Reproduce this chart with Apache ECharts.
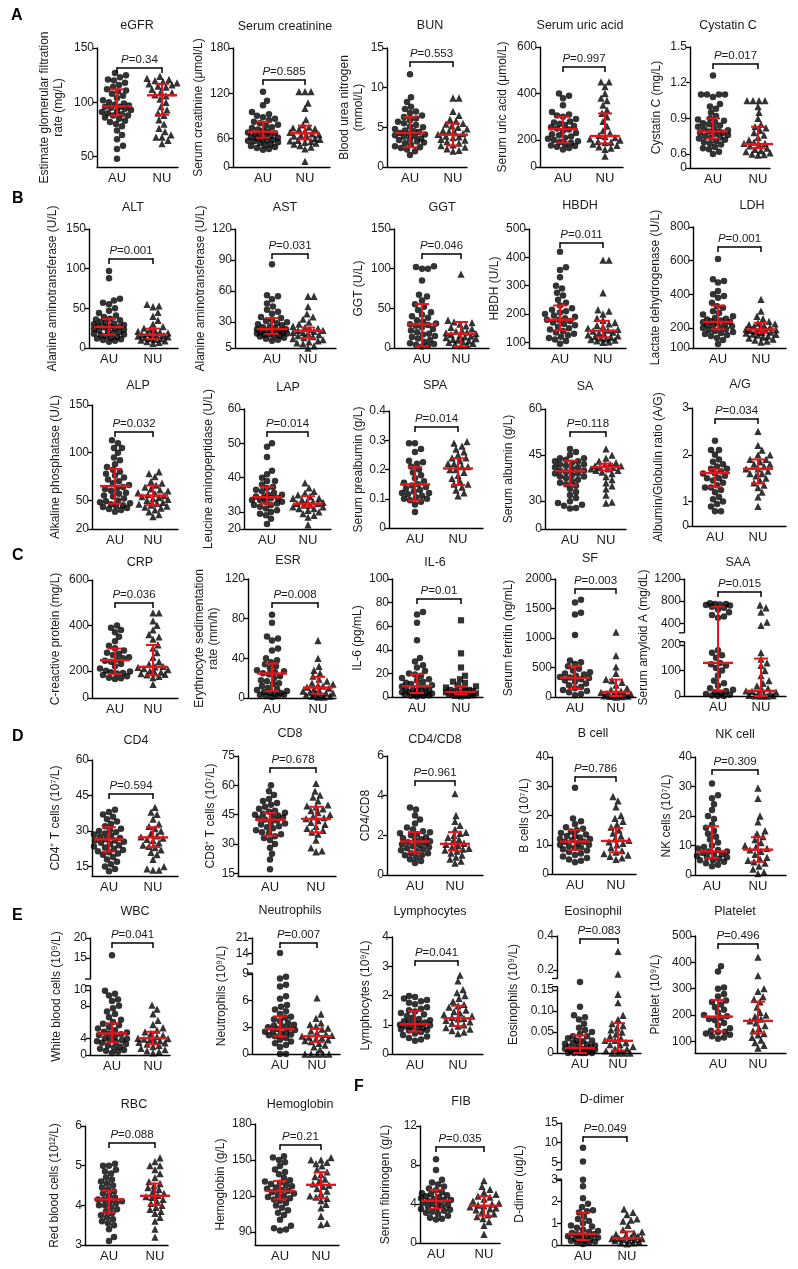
<!DOCTYPE html>
<html><head><meta charset="utf-8">
<script src="https://cdn.jsdelivr.net/npm/echarts@6/dist/echarts.min.js"></script>
<style>html,body{margin:0;padding:0;background:#fff}#c{width:798px;height:1269px}</style>
</head><body><div id="c"></div>
<script>
// ---------------- DATA ----------------
const titles = ['eGFR','Serum creatinine','BUN','Serum uric acid','Cystatin C',
 'ALT','AST','GGT','HBDH','LDH',
 'ALP','LAP','SPA','SA','A/G',
 'CRP','ESR','IL-6','SF','SAA',
 'CD4','CD8','CD4/CD8','B cell','NK cell',
 'WBC','Neutrophils','Lymphocytes','Eosinophil','Platelet',
 'RBC','Hemoglobin','FIB','D-dimer'];
const yNames = ['Estimate glomerular filtration\nrate (mg/L)','Serum creatinine (μmol/L)','Blood urea nitrogen\n(mmol/L)','Serum uric acid (μmol/L)','Cystatin C (mg/L)',
 'Alanine aminotransferase (U/L)','Alanine aminotransferase (U/L)','GGT (U/L)','HBDH (U/L)','Lactate dehydrogenase (U/L)',
 'Alkaline phosphatase (U/L)','Leucine aminopeptidase (U/L)','Serum prealbumin (g/L)','Serum albumin (g/L)','Albumin/Globulin ratio (A/G)',
 'C-reactive protein (mg/L)','Erythrocyte sedimentation\nrate (mm/h)','IL-6 (pg/mL)','Serum ferritin (ng/mL)','Serum amyloid A (mg/dL)',
 'CD4⁺ T cells (10⁷/L)','CD8⁺ T cells (10⁷/L)','CD4/CD8','B cells (10⁷/L)','NK cells (10⁷/L)',
 'White blood cells (10⁹/L)','Neutrophils (10⁹/L)','Lymphocytes (10⁹/L)','Eosinophils (10⁹/L)','Platelet (10⁹/L)',
 'Red blood cells (10¹²/L)','Hemoglobin (g/L)','Serum fibrinogen (g/L)','D-dimer (ug/L)'];
const pValues = ['0.34','0.585','0.553','0.997','0.017','0.001','0.031','0.046','0.011','0.001',
 '0.032','0.014','0.014','0.118','0.034','0.036','0.008','0.01','0.003','0.015',
 '0.594','0.678','0.961','0.786','0.309','0.041','0.007','0.041','0.083','0.496',
 '0.088','0.21','0.035','0.049'];
const tickLabels = [['50','100','150'],['0','60','120','180'],['0','5','10','15'],['0','200','400','600'],['0','0.6','0.9','1.2','1.5'],
 ['0','50','100','150'],['5','30','60','90','120'],['0','50','100','150'],['100','200','300','400','500'],['100','200','400','600','800'],
 ['20','50','100','150'],['20','30','40','50','60'],['0','0.1','0.2','0.3','0.4'],['0','30','45','60'],['0','1','2','3'],
 ['0','200','400','600'],['0','40','80','120'],['0','20','40','60','80','100'],['0','500','1000','1500','2000'],['0','100','200','400','800','1200'],
 ['15','30','45','60'],['15','30','45','60','75'],['0','2','4','6'],['0','10','20','30','40'],['0','10','20','30','40'],
 ['0','4','8','10','15','20'],['0','3','6','9','14','21'],['0','1','2','3','4'],['0','0.05','0.10','0.15','0.2','0.4'],['100','200','300','400','500'],
 ['3','4','5','6'],['90','120','150','180'],['0','4','8','12'],['0','1','2','3','5','10','15']];
// median with lower / upper bar [centre, low, high]
const statsAU = [[96.3,88,112],[68.9,61,82],[4.29,2.49,6.3],[247,180,300],[0.79,0.73,0.9],
 [26.5,16.8,36.6],[23.2,18.7,33.9],[29.8,2.1,55.4],[180,142,230],[237,194,333],
 [65,46.5,83],[34.3,32.4,37.3],[0.149,0.094,0.208],[39.8,35.2,43.1],[1.61,1.31,1.69],
 [247,176,298],[24.7,7.1,34.8],[9.1,3.4,19.3],[324,142,523],[130,22,700],
 [26.5,21.3,31.6],[42.4,34.3,45.9],[1.69,1.15,2.16],[11.1,8.2,15.1],[8.0,5.7,16.5],
 [4.6,3.0,5.85],[2.81,1.99,4.23],[1.02,0.77,1.47],[0.012,0,0.042],[194,138,257],
 [4.15,3.82,4.37],[124.1,117.1,132.5],[4.33,3.52,5.45],[0.51,0.23,1.49]];
const statsNU = [[106.5,88.6,117],[67,58,77],[4.07,2.7,5.49],[217,175,314],[0.684,0.65,0.83],
 [16.8,11.3,24.4],[21.6,14.5,24.8],[17.9,2.1,32.8],[141,118,176],[193,178,231],
 [55,45,65.5],[32.4,31.5,34.6],[0.2035,0.147,0.238],[41.1,40,42.2],[1.70,1.39,1.9],
 [217.5,168,314],[10.5,4.4,21.3],[4.3,2.3,9.1],[85,17,295],[20,0,147],
 [27.3,23.2,31.6],[42.8,35.9,49],[1.57,1.23,2.16],[11.3,7.4,15.7],[8.6,4.5,12.8],
 [4.0,2.55,4.8],[1.99,1.35,2.85],[1.22,0.96,1.65],[0.029,0.0055,0.071],[178,131,251],
 [4.24,4.01,4.55],[129.2,118,139.8],[3.82,2.8,4.78],[0.31,0.28,0.62]];

const egfrAU=[48,57,60,66,70,74,78,80,82,83,85,86,88,88,89,90,91,92,93,94,95,96,96,97,98,99,100,102,104,106,108,110,111,112,114,116,118,120,121,123,125,127];
const egfrNU=[62,65,68,68,70,73,76,80,84,88,90,93,96,100,103,106,107,109,110,112,114,115,116,117,118,119,120,121,122,124];
const creatAU=[36,38,40,42,44,46,48,50,52,54,55,56,57,58,60,61,62,63,64,65,66,67,68,69,70,72,74,75,77,78,80,82,84,86,88,90,92,95,104,110,122];
const creatNU=[12,38,42,45,48,50,52,54,55,56,58,60,62,63,64,65,66,68,70,72,73,74,75,78,85,100,107,122,122,122];
const bunAU=[1.5,2.0,2.2,2.4,2.5,2.6,2.8,3.0,3.1,3.2,3.4,3.5,3.6,3.8,3.9,4.0,4.1,4.2,4.3,4.4,4.5,4.6,4.8,5.0,5.1,5.3,5.5,5.7,5.9,6.1,6.3,6.5,6.8,7.0,7.3,7.6,8.2,8.8,11.7];
const bunNU=[2.0,2.1,2.3,2.5,2.7,2.8,3.0,3.2,3.4,3.5,3.7,3.8,3.9,4.0,4.1,4.2,4.3,4.5,4.6,4.8,5.0,5.2,5.4,5.5,5.8,6.0,6.5,7.0,8.7,8.7];
const uricAU=[130,140,150,155,160,170,180,185,190,200,205,210,215,220,225,230,240,245,250,255,260,265,270,275,280,290,300,305,310,320,350,380,390,400];
const uricNU=[80,130,140,150,160,170,180,185,190,200,205,210,215,220,230,240,260,280,300,315,330,350,370,380,400,430,450,450];
const cysAU=[0.60,0.62,0.64,0.65,0.66,0.68,0.69,0.70,0.71,0.72,0.73,0.74,0.74,0.75,0.76,0.77,0.78,0.78,0.79,0.79,0.80,0.81,0.82,0.83,0.84,0.85,0.86,0.87,0.88,0.89,0.90,0.92,0.95,0.98,1.00,1.02,1.08,1.10,1.10,1.10,1.10,1.26];
const cysNU=[0.56,0.58,0.60,0.61,0.62,0.63,0.64,0.65,0.66,0.67,0.68,0.69,0.69,0.70,0.71,0.72,0.74,0.76,0.78,0.80,0.82,0.83,0.85,0.90,0.95,1.00,1.05,1.05,1.05,1.05,1.05];
const altAU=[8,9,10,11,12,13,14,15,16,17,18,19,20,21,22,23,24,25,26,27,27,28,29,30,31,32,33,35,36,37,39,41,44,47,50,55,57,60,62,88,97];
const altNU=[6,7,8,9,10,11,12,12,13,14,15,16,16,17,17,18,19,20,21,22,23,25,27,30,35,40,45,52,53,55];
const astAU=[12,13,14,15,16,17,17,18,18,19,19,20,20,21,21,22,22,23,23,24,25,26,27,28,29,30,31,32,34,35,38,40,42,45,48,52,55,56,86];
const astNU=[5,7,9,10,11,12,13,14,15,16,17,18,19,20,20,21,22,22,23,24,25,26,28,30,33,35,38,45,55,55];
const ggtAU=[2,3,4,5,6,8,10,12,14,15,17,18,20,22,24,26,28,29,30,31,33,35,38,40,42,45,48,52,55,60,65,67,85,100,100,102,103];
const ggtNU=[3,4,5,6,7,8,9,10,11,12,13,14,15,16,17,18,19,20,21,22,24,26,28,30,32,33,35,93];
const hbdhAU=[95,105,110,115,120,125,130,135,140,145,150,155,160,165,170,175,180,180,185,190,195,200,205,210,215,220,230,240,250,265,275,290,300,330,355,365,420];
const hbdhNU=[100,102,105,108,110,112,115,118,120,123,126,130,133,136,140,143,146,150,155,160,165,170,178,185,200,210,215,275,390,390];
const ldhAU=[120,140,150,160,165,170,175,180,185,190,195,200,205,210,215,220,225,230,235,238,240,245,250,255,260,270,280,290,300,320,330,350,380,390,400,420,470,480,490,610];
const ldhNU=[130,135,140,145,150,155,160,165,168,170,175,178,180,185,188,190,192,195,200,205,210,215,220,225,230,240,255,270,300,370];
const alpAU=[38,40,41,42,43,44,45,46,47,48,49,50,52,54,55,57,58,60,62,63,64,66,68,70,72,74,76,78,80,82,85,88,92,95,100,105,105,110,113];
const alpNU=[33,35,38,40,42,43,44,45,46,47,48,50,51,52,53,54,55,56,57,58,60,61,62,64,66,68,70,75,78,80];
const lapAU=[23,26,28,29,30,30.5,31,31.5,32,32,32.5,33,33,33.5,33.5,34,34,34.3,34.5,35,35,35.5,36,36.5,37,37.3,38,39,39,40,41,42,46,49,50];
const lapNU=[22.5,27,28,29,30,30.5,31,31,31.5,31.5,32,32,32.4,32.5,32.8,33,33,33.5,34,34,34.5,35,35.5,36,37,38.5];
const spaAU=[0.055,0.08,0.09,0.095,0.10,0.10,0.105,0.11,0.115,0.12,0.12,0.125,0.13,0.135,0.14,0.145,0.15,0.155,0.16,0.17,0.18,0.19,0.20,0.21,0.22,0.225,0.23,0.26,0.27,0.29,0.29];
const spaNU=[0.11,0.12,0.13,0.14,0.15,0.15,0.16,0.17,0.18,0.19,0.20,0.20,0.21,0.21,0.22,0.22,0.23,0.24,0.24,0.25,0.26,0.27,0.28,0.29,0.295];
const saAU=[22,22.5,25,26,28,30,31,32,33,34,35,35.5,36,36.5,37,37.5,38,38,38.5,39,39,39.5,40,40,40.5,41,41,41.5,42,42,42.5,43,43,43.5,44,44,45,46,47];
const saNU=[28,29,32,34,35,36,37,38,39,39.5,40,40,40.5,40.5,41,41,41.5,41.5,42,42,42.5,43,44,45,47];
const agAU=[0.6,0.6,0.8,0.9,1.0,1.05,1.1,1.2,1.25,1.3,1.3,1.35,1.4,1.45,1.5,1.5,1.55,1.6,1.6,1.65,1.7,1.7,1.75,1.8,1.85,1.9,2.0,2.1,2.1,2.3];
const agNU=[0.8,1.1,1.2,1.3,1.35,1.4,1.45,1.5,1.55,1.6,1.6,1.65,1.7,1.7,1.75,1.8,1.8,1.85,1.9,1.9,2.0,2.0,2.1,2.2,2.5];
const crpAU=[140,145,150,160,170,180,185,190,195,200,210,220,230,240,245,250,255,260,270,275,280,290,300,310,330,350,370,380,390,400];
const crpNU=[100,150,160,170,175,180,185,190,200,205,210,215,218,220,230,240,260,280,300,315,340,350,360,380,400,420,455,455];
const esrAU=[1,2,2,3,3,4,5,5,6,7,8,9,10,12,14,15,17,18,20,22,24,25,26,27,28,30,32,34,36,38,40,48,50,58,60,62,76,84];
const esrNU=[1,1,2,2,3,3,4,5,5,6,7,8,9,10,11,12,13,14,15,17,19,22,25,28,32,40,58];
const il6AU=[0.5,1,1,1.5,2,2,2.5,3,3,4,4,5,5,6,6,7,8,9,9,10,11,12,13,14,15,16,18,19,20,22,25,27,30,33,48,63,70,72];
const il6NU=[0.5,1,1,1.5,2,2,2.5,3,3,3.5,4,4,5,5,5,6,6,7,8,9,10,12,13,15,18,25,37,65];
const sfAU=[30,50,80,100,120,150,170,200,230,260,280,300,320,330,340,360,380,400,420,450,480,520,560,590,620,1050,1400,1430,1600,1650];
const sfNU=[0,5,10,15,20,25,30,40,50,60,80,90,100,120,150,200,250,280,300,400,510,700,1100];
const saaAU=[0,0,2,5,8,10,15,20,25,30,40,50,60,80,100,110,120,125,130,150,160,170,180,500,520,550,600,650,680,700,720,730,740,750,750,760];
const saaNU=[0,0,1,2,3,5,8,10,15,18,20,25,30,40,50,60,80,100,120,130,145,170,380,420,600,680,730];
const cd4AU=[13,14,15,16,17,18,19,20,20.5,21,21.5,22,22.5,23,23.5,24,24.5,25,25.5,26,26,26.5,27,27.5,28,28.5,29,29.5,30,30.5,31,32,33,34,35,36,37,38,39];
const cd4NU=[13.5,13.5,14,15,18,20,21,22,23,23.5,24,25,26,26.5,27,27.5,28,29,30,31,32,33,35,37,38,40];
const cd8AU=[17,22,25,28,30,32,33,34,35,35.5,36,37,38,38.5,39,40,40.5,41,42,42.5,43,43.5,44,44.5,45,45.5,46,46.5,47,48,49,50,51,52,53,55,57,60];
const cd8NU=[26,26.5,28,32,35,36,37,38,39,40,41,42,43,43.5,44,45,46,47,48,49,49.5,50,52,54,55,57,61];
const ratioAU=[0.6,0.7,0.8,0.9,1.0,1.0,1.1,1.1,1.2,1.25,1.3,1.35,1.4,1.45,1.5,1.55,1.6,1.65,1.7,1.75,1.8,1.85,1.9,2.0,2.05,2.1,2.15,2.2,2.3,2.4,2.6,2.8,3.0,3.3,3.4];
const ratioNU=[0.6,0.7,0.8,0.9,1.0,1.1,1.2,1.25,1.3,1.35,1.4,1.5,1.55,1.6,1.7,1.8,1.9,2.0,2.1,2.15,2.3,2.5,2.7,3.0,4.1];
const bcellAU=[4,4.5,5,5.5,6,6.5,7,7.5,8,8.5,9,9,9.5,10,10,10.5,11,11,11.5,12,12,12.5,13,13,13.5,14,14.5,15,15.5,16,17,18,19,29.5];
const bcellNU=[5,5.5,6,6.5,7,7.5,8,9,10,10.5,11,11.5,12,13,14,15,16,17,18,19,20,23,25,26.5];
const nkAU=[3,3.5,4,4.5,5,5,5.5,6,6,6.5,7,7,7.5,8,8,8.5,9,9.5,10,11,12,13,14,15,16,17,19,20,22,24,26,27,31];
const nkNU=[0.5,1,2,3,4,4.5,5,5.5,6,7,8,8.5,9,9.5,10,11,12,13,14,15,18,20,26,29.5];
const wbcAU=[0.5,0.8,1.0,1.2,1.5,1.8,2.0,2.3,2.6,2.9,3.1,3.3,3.5,3.7,3.9,4.0,4.2,4.4,4.5,4.6,4.7,4.8,5.0,5.2,5.4,5.6,5.8,6.0,6.3,6.6,7.0,7.3,7.7,8.0,8.6,8.8,9.3,9.5,9.9,15.7];
const wbcNU=[0.5,0.8,1.0,1.3,1.6,2.0,2.3,2.6,2.9,3.0,3.2,3.4,3.6,3.8,3.9,4.0,4.2,4.4,4.6,4.8,5.0,5.3,5.7,6.2,7.0,7.6,8.1];
const neutAU=[0,0,0.8,1.0,1.2,1.4,1.6,1.8,2.0,2.1,2.2,2.3,2.4,2.5,2.6,2.7,2.8,2.9,3.0,3.1,3.2,3.3,3.5,3.7,3.9,4.1,4.2,4.5,4.8,5.0,5.3,5.5,6.2,6.5,7.6,7.8,8.5,8.7,14.3];
const neutNU=[0,0,0,0,0,0.5,0.8,1.0,1.2,1.4,1.5,1.6,1.7,1.8,1.9,2.0,2.1,2.2,2.4,2.6,2.8,2.9,3.1,3.3,3.5,4.0,4.5,6.3];
const lymAU=[0.45,0.5,0.55,0.6,0.65,0.7,0.75,0.8,0.82,0.85,0.88,0.9,0.92,0.95,0.98,1.0,1.02,1.05,1.08,1.1,1.12,1.15,1.2,1.25,1.3,1.35,1.4,1.45,1.5,1.55,1.6,1.7,1.75,1.8,1.85,1.9,1.95,1.98];
const lymNU=[0.7,0.75,0.8,0.85,0.9,0.95,1.0,1.05,1.1,1.15,1.2,1.22,1.25,1.3,1.35,1.4,1.45,1.5,1.6,1.65,1.7,1.8,1.9,2.0,2.1,2.2,2.5,2.7];
const eosAU=[0,0,0,0,0,0,0.002,0.005,0.005,0.008,0.01,0.01,0.01,0.012,0.015,0.015,0.018,0.02,0.02,0.022,0.025,0.028,0.03,0.03,0.035,0.04,0.04,0.045,0.05,0.055,0.06,0.07,0.08,0.085,0.09,0.11,0.17];
const eosNU=[0,0,0,0,0.005,0.005,0.01,0.01,0.015,0.02,0.02,0.025,0.03,0.03,0.035,0.04,0.045,0.05,0.055,0.06,0.065,0.07,0.08,0.09,0.12,0.14,0.19,0.31];
const pltAU=[110,115,120,125,130,135,137,140,150,160,170,180,185,190,195,200,210,220,230,240,250,255,270,280,300,305,365,385];
const pltNU=[75,85,95,105,115,125,130,140,150,160,170,178,185,195,200,210,230,250,260,270,290,300,350,420];
const rbcAU=[3.1,3.2,3.4,3.5,3.55,3.6,3.65,3.7,3.75,3.8,3.85,3.9,3.95,4.0,4.0,4.05,4.1,4.1,4.15,4.15,4.2,4.25,4.3,4.35,4.4,4.45,4.5,4.55,4.6,4.65,4.7,4.8,4.85,4.9,5.0,5.0,5.05];
const rbcNU=[3.2,3.4,3.6,3.7,3.8,3.85,3.9,3.95,4.0,4.05,4.1,4.15,4.2,4.22,4.25,4.3,4.35,4.4,4.45,4.5,4.55,4.6,4.7,4.8,4.9,5.0,5.0,5.1,5.2];
const hbAU=[91,92,93,95,100,104,106,108,110,112,114,116,117,118,119,120,121,122,123,124,125,126,127,128,129,130,131,132,133,135,138,140,142,145,148,150,152,153];
const hbNU=[96,97,103,110,113,116,118,119,120,122,124,126,128,129,130,132,134,136,138,140,142,145,147,148,150,150,152];
const fibAU=[2.4,2.5,2.6,2.8,3.0,3.1,3.2,3.3,3.4,3.5,3.6,3.7,3.8,3.9,4.0,4.1,4.2,4.3,4.4,4.4,4.5,4.6,4.7,4.8,4.9,5.0,5.1,5.2,5.4,5.6,5.8,6.0,6.2,6.5,7.5,8.6];
const fibNU=[0.9,1.8,2.2,2.5,2.7,2.9,3.0,3.2,3.4,3.5,3.6,3.7,3.8,3.9,4.0,4.1,4.3,4.5,4.7,4.8,5.0,5.2,5.5,5.8,6.4];
const ddAU=[0.05,0.1,0.1,0.15,0.2,0.2,0.25,0.3,0.3,0.35,0.4,0.4,0.45,0.5,0.5,0.55,0.6,0.65,0.7,0.8,0.85,0.9,1.0,1.1,1.2,1.3,1.5,1.55,1.6,1.75,1.9,2.15,2.7,3.0,5.2,8.7];
const ddNU=[0.05,0.1,0.1,0.15,0.2,0.2,0.25,0.25,0.3,0.3,0.3,0.35,0.4,0.45,0.5,0.55,0.6,0.7,0.9,1.1,1.15,1.2,1.4,1.5,1.65];

const auData=[egfrAU,creatAU,bunAU,uricAU,cysAU,altAU,astAU,ggtAU,hbdhAU,ldhAU,alpAU,lapAU,spaAU,saAU,agAU,crpAU,esrAU,il6AU,sfAU,saaAU,cd4AU,cd8AU,ratioAU,bcellAU,nkAU,wbcAU,neutAU,lymAU,eosAU,pltAU,rbcAU,hbAU,fibAU,ddAU];
const nuData=[egfrNU,creatNU,bunNU,uricNU,cysNU,altNU,astNU,ggtNU,hbdhNU,ldhNU,alpNU,lapNU,spaNU,saNU,agNU,crpNU,esrNU,il6NU,sfNU,saaNU,cd4NU,cd8NU,ratioNU,bcellNU,nkNU,wbcNU,neutNU,lymNU,eosNU,pltNU,rbcNU,hbNU,fibNU,ddNU];

// ---------------- LAYOUT (pixels / axis shapes) ----------------
// [axisX, AUx, NUx, rightX, top, bottom, nameGap, bracketOffset, titleX, titleY]
const LAYOUT = [
 [97,117,162,178,48,167,31,20,137,26],[233,263,305,330,48,167,19,32,285,27],[387,410,453,467,48,167,21,14,430,26],[540,563,605,623,47,167,30,20,580,26],[690,713,758,770,47,168,26,17,728,26],
 [89,109,153,178,229,348,29,30,133,208],[235,272,308,336,229,348,19,25,285,208],[394,422,461,489,229,348,28,25,442,208],[529,560,603,626,229,348,16,14,580,206],[693,718,761,786,227,348,30,20,752,206],
 [92,115,153,178,405,529,29,27,138,386],[244,267,308,331,409,529,28,23,288,388],[389,415,458,483,411,528,21,16,435,386],[545,570,606,626,409,529,29,23,585,387],[692,715,758,786,408,526,26,11,740,385],
 [92,115,153,178,580,698,29,23,140,563],[248,272,318,336,579,698,21,24,288,561],[392,417,461,483,579,697,24,20,435,563],[555,575,616,636,579,697,39,10,590,559],[684,718,761,786,579,696,21,13,738,563],
 [92,109,153,178,760,876,29,34,136,741],[238,270,316,336,756,876,17,12,290,734],[387,415,455,483,756,875,14,25,435,740],[552,575,616,636,757,874,16,20,593,734],[695,712,758,786,757,875,21,13,735,735],
 [90,112,153,170,938,1055,26,5,135,912],[252,280,317,340,938,1054,23,5,290,911],[392,415,458,483,937,1054,19,24,430,912],[557,580,618,641,936,1053,36,3,593,912],[695,718,758,786,936,1053,32,8,735,912],
 [85,109,155,168,1126,1245,23,17,134,1105],[255,280,321,339,1124,1245,27,21,300,1105],[420,436,484,500,1126,1243,27,21,461,1102],[561,583,627,647,1123,1245,34,14,602,1100]];
// axis shape: [value, fraction of axis height]
const SCALES = [[[40.5,0],[150,1]],[[0,0],[60,0.24],[180,1]],[[0,0],[15,1]],[[0,0],[200,0.225],[600,1]],[[0,0],[0.6,0.115],[1.5,1]],
 [[0,0],[150,1]],[[5,0],[120,1]],[[0,0],[150,1]],[[80,0],[500,1]],[[100,0],[200,0.165],[800,1]],
 [[20,0],[150,1]],[[20,0],[30,0.142],[60,1]],[[0,0],[0.4,1]],[[0,0],[30,0.232],[60,1]],[[0,0],[1,0.207],[3,1]],
 [[0,0],[200,0.23],[600,1]],[[0,0],[120,1]],[[0,0],[100,1]],[[0,0],[2000,1]],[[0,0],[200,0.4355],[400,0.622],[1200,1]],
 [[11,0],[60,1]],[[13.6,0],[75,1]],[[0,0],[6,1]],[[0,0],[40,1]],[[0,0],[40,1]],
 [[0,0],[4,0.143],[8,0.42],[10,0.557],[15,0.829],[20,1]],[[0,0],[9,0.69],[14,0.865],[21,1]],[[0,0],[4,1]],[[0,0],[0.15,0.538],[0.2,0.708],[0.4,1]],[[56,0],[500,1]],
 [[3,0],[6,1]],[[79,0],[180,1]],[[0,0],[12,1]],[[0,0],[3,0.534],[5,0.677],[15,1]]];
const GAPS = {19:[[0.464,0.54]],25:[[0.591,0.649]],26:[[0.698,0.776]],28:[[0.567,0.637]],33:[[0.54,0.616]]};
const LETTERS = [['A',17,17],['B',18,200],['C',18,557],['D',18,738],['E',18,917],['F',360,1088]];

// ---------------- BUILD ----------------
const FONT = '"Liberation Sans", Arial, Helvetica, sans-serif';
const RED = '#e8141b', INK = '#1a1a1a';

function fracFn(knots){
  return function(v){
    const n = knots.length;
    for (let k = 0; k < n - 1; k++) {
      const a = knots[k][0], fa = knots[k][1], b = knots[k+1][0], fb = knots[k+1][1];
      if (v <= b || k === n - 2) return fa + (v - a) / (b - a) * (fb - fa);
    }
  };
}
function swarm(vals, frac, hPx, unitPx){
  const d = 6.0, cap = 15;
  const pts = vals.map((v, i) => ({y: frac(v) * hPx, i}));
  pts.sort((a, b) => a.y - b.y);
  const placed = [], off = new Array(vals.length);
  const cands = [0];
  for (let k = 1; k <= cap; k++) cands.push(k, -k);
  for (const p of pts) {
    let best = 0, bestScore = -1;
    for (const c of cands) {
      let minD = Infinity;
      for (const q of placed) {
        const dy = q.y - p.y;
        if (Math.abs(dy) < d) { const dist = Math.hypot(q.x - c, dy); if (dist < minD) minD = dist; }
      }
      if (minD >= d) { best = c; bestScore = Infinity; break; }
      if (minD > bestScore) { bestScore = minD; best = c; }
    }
    placed.push({x: best, y: p.y});
    off[p.i] = best / unitPx;
  }
  return off;
}

const option = {animation: false, backgroundColor: '#fff', title: [], grid: [], xAxis: [], yAxis: [], series: []};
LETTERS.forEach(([t, x, y]) => option.title.push({text: t, left: x - 6, top: y - 9, padding: 0,
  textStyle: {fontSize: 16, fontWeight: 'bold', color: '#000', fontFamily: FONT}}));

for (let i = 0; i < titles.length; i++) {
  const [L, AUx, NUx, R, T, B, nGap, pOff, tx, ty] = LAYOUT[i];
  const knots = SCALES[i];
  const frac = fracFn(knots);
  const ident = knots.length === 2;
  const toAxis = v => ident ? v : frac(v);
  const unit = NUx - AUx;
  const xmin = 1 - (AUx - L) / unit, xmax = 2 + (R - NUx) / unit;
  const H = B - T;
  const ymin = ident ? knots[0][0] : 0, ymax = ident ? knots[1][0] : 1;
  const labs = tickLabels[i];
  const tickVals = labs.map(s => toAxis(parseFloat(s)));

  option.title.push({text: titles[i], left: tx, top: ty - 7, textAlign: 'center', padding: 0,
    textStyle: {fontSize: 12.5, fontWeight: 'normal', color: INK, fontFamily: FONT}});
  option.grid.push({left: L, top: T, width: R - L, height: H, containLabel: false, outerBoundsMode: 'none'});
  option.xAxis.push({gridIndex: i, type: 'value', min: xmin, max: xmax,
    axisLine: {show: true, onZero: false, lineStyle: {color: '#000', width: 1.4}},
    axisTick: {show: false}, splitLine: {show: false},
    axisLabel: {customValues: [1, 2], formatter: v => (v < 1.5 ? 'AU' : 'NU'), margin: 5, fontSize: 13, color: INK, fontFamily: FONT}});
  option.yAxis.push({gridIndex: i, type: 'value', min: ymin, max: ymax,
    axisLine: {show: true, onZero: false, lineStyle: {color: '#000', width: 1.4}},
    axisTick: {show: true, length: 4, customValues: tickVals, lineStyle: {color: '#000', width: 1.3}},
    axisLabel: {customValues: tickVals, margin: 3, fontSize: 12, color: INK, fontFamily: FONT,
      formatter: v => { let bi = 0, bd = Infinity; tickVals.forEach((t, k) => { const dd = Math.abs(t - v); if (dd < bd) { bd = dd; bi = k; } }); return labs[bi]; }},
    splitLine: {show: false},
    name: yNames[i], nameLocation: 'middle', nameRotate: 90, nameGap: nGap,
    nameTextStyle: {fontSize: 12, color: INK, fontFamily: FONT, lineHeight: 14}});

  const au = auData[i], nu = nuData[i];
  const jA = swarm(au, frac, H, unit), jN = swarm(nu, frac, H, unit);
  option.series.push({type: 'scatter', xAxisIndex: i, yAxisIndex: i, silent: true, z: 3,
    symbol: 'circle', symbolSize: 6.5, itemStyle: {color: '#000'},
    data: au.map((v, k) => [1 + jA[k], toAxis(v)])});
  const nuSym = (i === 17) ? 'rect' : 'triangle';
  option.series.push({type: 'scatter', xAxisIndex: i, yAxisIndex: i, silent: true, z: 3,
    symbol: nuSym, symbolSize: nuSym === 'rect' ? 6.2 : 7.3, itemStyle: {color: '#000'},
    data: nu.map((v, k) => [2 + jN[k], toAxis(v)])});
  const sA = statsAU[i], sN = statsNU[i];
  option.series.push({type: 'custom', xAxisIndex: i, yAxisIndex: i, silent: true, z: 5,
    data: [[1, toAxis(sA[0]), toAxis(sA[1]), toAxis(sA[2])], [2, toAxis(sN[0]), toAxis(sN[1]), toAxis(sN[2])]],
    renderItem: (params, api) => {
      const x = api.value(0);
      const pc = api.coord([x, api.value(1)]), pl = api.coord([x, api.value(2)]), ph = api.coord([x, api.value(3)]);
      const st = {stroke: RED, lineWidth: 2};
      return {type: 'group', children: [
        {type: 'line', shape: {x1: pc[0], y1: pl[1], x2: pc[0], y2: ph[1]}, style: st},
        {type: 'line', shape: {x1: pc[0] - 7, y1: pl[1], x2: pc[0] + 7, y2: pl[1]}, style: st},
        {type: 'line', shape: {x1: pc[0] - 7, y1: ph[1], x2: pc[0] + 7, y2: ph[1]}, style: st},
        {type: 'line', shape: {x1: pc[0] - 15, y1: pc[1], x2: pc[0] + 15, y2: pc[1]}, style: {stroke: RED, lineWidth: 2.4}}
      ]};
    }});
  const gaps = GAPS[i] || [];
  const pv = pValues[i];
  option.series.push({type: 'custom', xAxisIndex: i, yAxisIndex: i, silent: true, z: 6,
    data: [[1.5, ymin]],
    renderItem: (params, api) => {
      const cs = params.coordSys;
      const yb = cs.y + pOff;
      const x1 = api.coord([1, ymin])[0], x2 = api.coord([2, ymin])[0];
      const ls = {stroke: '#000', lineWidth: 1.5};
      const ch = [
        {type: 'line', shape: {x1: x1, y1: yb, x2: x2, y2: yb}, style: ls},
        {type: 'line', shape: {x1: x1, y1: yb - 0.7, x2: x1, y2: yb + 5}, style: ls},
        {type: 'line', shape: {x1: x2, y1: yb - 0.7, x2: x2, y2: yb + 5}, style: ls},
        {type: 'text', x: (x1 + x2) / 2, y: yb - 2, style: {text: '{i|P}=' + pv,
          rich: {i: {fontStyle: 'italic', fontSize: 11.5, fontFamily: FONT, fill: INK}},
          fontSize: 11.5, fontFamily: FONT, fill: INK,
          align: 'center', verticalAlign: 'bottom', textAlign: 'center', textVerticalAlign: 'bottom'}}
      ];
      gaps.forEach(([f1, f2]) => {
        const ya = cs.y + cs.height * (1 - f2), yc = cs.y + cs.height * (1 - f1);
        ch.push({type: 'rect', shape: {x: cs.x - 2, y: ya, width: 4, height: yc - ya}, style: {fill: '#fff'}});
        ch.push({type: 'line', shape: {x1: cs.x - 5, y1: ya, x2: cs.x + 0.7, y2: ya}, style: {stroke: '#000', lineWidth: 1.3}});
        ch.push({type: 'line', shape: {x1: cs.x - 5, y1: yc, x2: cs.x + 0.7, y2: yc}, style: {stroke: '#000', lineWidth: 1.3}});
      });
      return {type: 'group', children: ch};
    }});
}

const chart = echarts.init(document.getElementById('c'), null, {renderer: 'canvas', width: 798, height: 1269});
chart.setOption(option);
</script></body></html>
